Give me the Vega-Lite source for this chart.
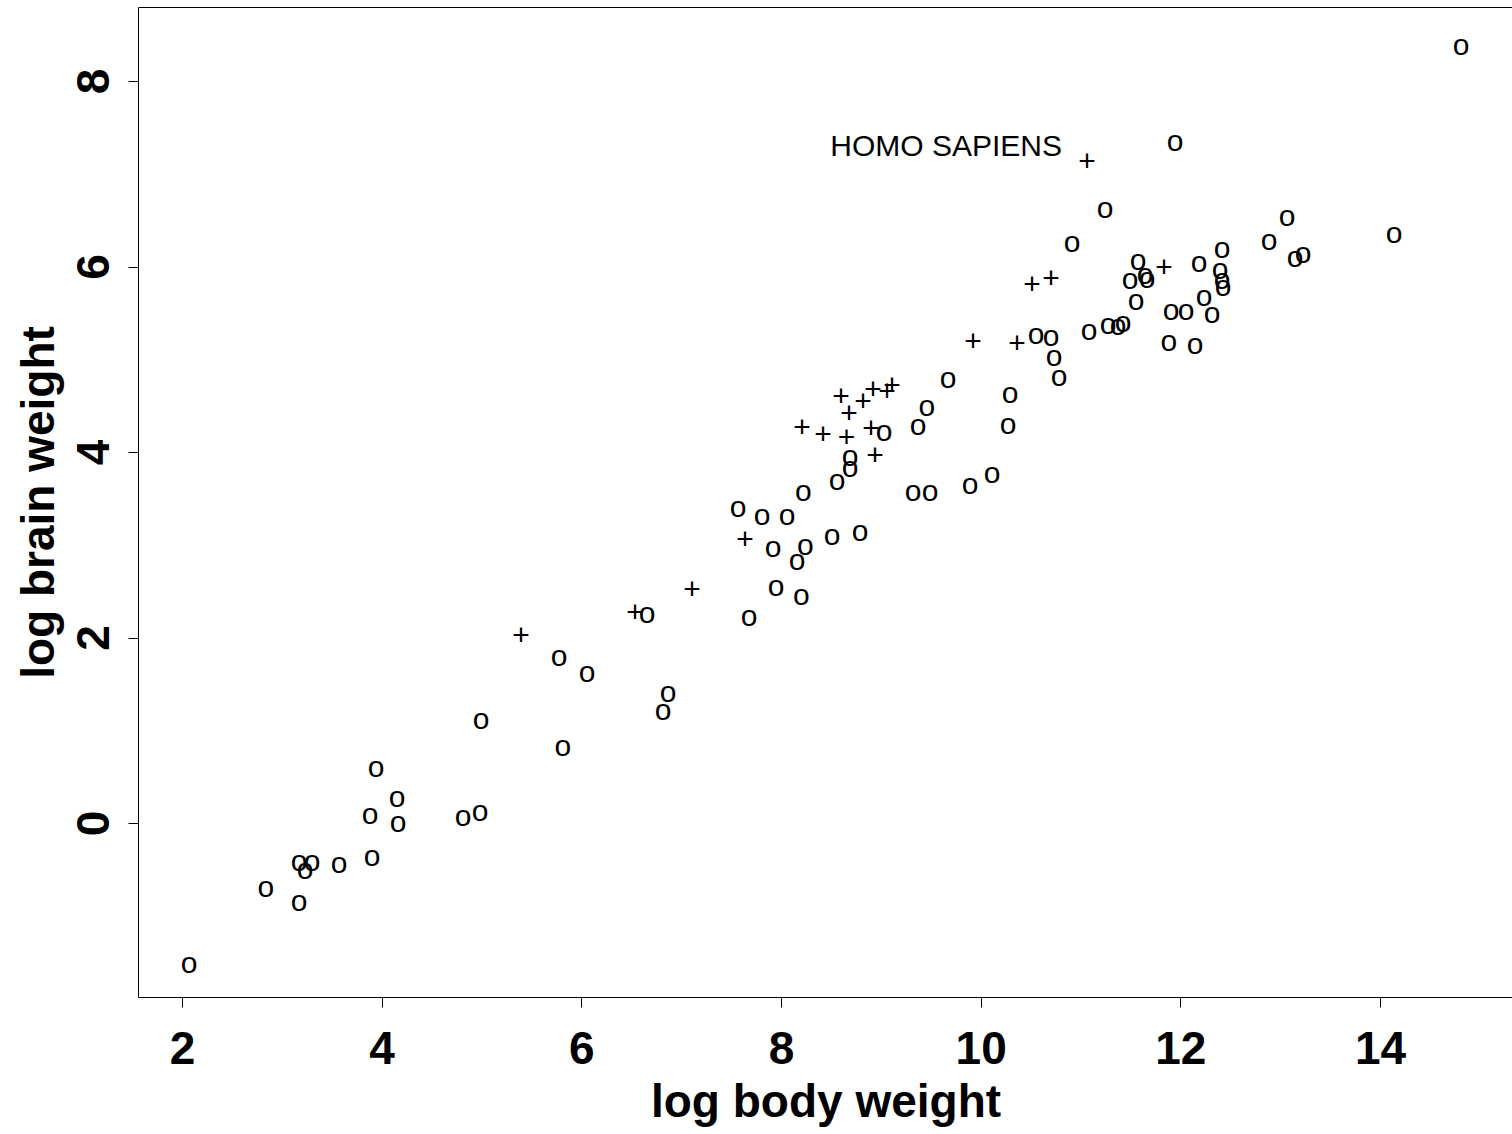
{
  "$schema": "https://vega.github.io/schema/vega-lite/v6.json",
  "autosize": {"type": "none"},
  "width": 1375,
  "height": 990,
  "padding": {"left": 138, "top": 7, "right": 0, "bottom": 137},
  "background": "white",
  "config": {
    "view": {"stroke": "black", "strokeWidth": 1},
    "font": "Liberation Sans"
  },
  "data": {
    "values": [
      {"x": 14.812, "y": 8.377, "s": "o"},
      {"x": 11.947, "y": 7.342, "s": "o"},
      {"x": 11.245, "y": 6.620, "s": "o"},
      {"x": 10.915, "y": 6.253, "s": "o"},
      {"x": 13.069, "y": 6.534, "s": "o"},
      {"x": 12.888, "y": 6.270, "s": "o"},
      {"x": 14.140, "y": 6.350, "s": "o"},
      {"x": 13.229, "y": 6.135, "s": "o"},
      {"x": 13.149, "y": 6.092, "s": "o"},
      {"x": 12.417, "y": 6.189, "s": "o"},
      {"x": 12.187, "y": 6.038, "s": "o"},
      {"x": 11.576, "y": 6.059, "s": "o"},
      {"x": 11.496, "y": 5.854, "s": "o"},
      {"x": 11.646, "y": 5.908, "s": "o"},
      {"x": 11.666, "y": 5.865, "s": "o"},
      {"x": 12.397, "y": 5.962, "s": "o"},
      {"x": 12.417, "y": 5.854, "s": "o"},
      {"x": 12.427, "y": 5.779, "s": "o"},
      {"x": 12.237, "y": 5.671, "s": "o"},
      {"x": 12.317, "y": 5.488, "s": "o"},
      {"x": 11.907, "y": 5.520, "s": "o"},
      {"x": 12.057, "y": 5.520, "s": "o"},
      {"x": 11.886, "y": 5.186, "s": "o"},
      {"x": 12.147, "y": 5.154, "s": "o"},
      {"x": 11.556, "y": 5.628, "s": "o"},
      {"x": 11.085, "y": 5.305, "s": "o"},
      {"x": 11.275, "y": 5.369, "s": "o"},
      {"x": 11.376, "y": 5.359, "s": "o"},
      {"x": 11.426, "y": 5.391, "s": "o"},
      {"x": 10.554, "y": 5.261, "s": "o"},
      {"x": 10.705, "y": 5.243, "s": "o"},
      {"x": 10.735, "y": 5.024, "s": "o"},
      {"x": 10.785, "y": 4.808, "s": "o"},
      {"x": 10.514, "y": 5.801, "s": "+"},
      {"x": 10.705, "y": 5.865, "s": "+"},
      {"x": 11.837, "y": 5.984, "s": "+"},
      {"x": 10.364, "y": 5.164, "s": "+"},
      {"x": 11.065, "y": 7.132, "s": "+", "label": "HOMO SAPIENS"},
      {"x": 9.923, "y": 5.186, "s": "+"},
      {"x": 8.601, "y": 4.593, "s": "+"},
      {"x": 8.821, "y": 4.539, "s": "+"},
      {"x": 8.922, "y": 4.668, "s": "+"},
      {"x": 9.062, "y": 4.647, "s": "+"},
      {"x": 9.112, "y": 4.712, "s": "+"},
      {"x": 8.681, "y": 4.410, "s": "+"},
      {"x": 8.211, "y": 4.259, "s": "+"},
      {"x": 8.421, "y": 4.183, "s": "+"},
      {"x": 8.655, "y": 4.151, "s": "+"},
      {"x": 8.902, "y": 4.248, "s": "+"},
      {"x": 8.942, "y": 3.957, "s": "+"},
      {"x": 7.639, "y": 3.051, "s": "+"},
      {"x": 9.673, "y": 4.787, "s": "o"},
      {"x": 10.294, "y": 4.625, "s": "o"},
      {"x": 9.462, "y": 4.485, "s": "o"},
      {"x": 9.372, "y": 4.280, "s": "o"},
      {"x": 10.274, "y": 4.291, "s": "o"},
      {"x": 9.032, "y": 4.216, "s": "o"},
      {"x": 8.691, "y": 3.946, "s": "o"},
      {"x": 8.691, "y": 3.827, "s": "o"},
      {"x": 8.561, "y": 3.687, "s": "o"},
      {"x": 8.224, "y": 3.569, "s": "o"},
      {"x": 9.322, "y": 3.569, "s": "o"},
      {"x": 9.493, "y": 3.569, "s": "o"},
      {"x": 9.893, "y": 3.644, "s": "o"},
      {"x": 10.114, "y": 3.763, "s": "o"},
      {"x": 7.569, "y": 3.396, "s": "o"},
      {"x": 7.810, "y": 3.310, "s": "o"},
      {"x": 8.060, "y": 3.310, "s": "o"},
      {"x": 7.920, "y": 2.965, "s": "o"},
      {"x": 8.244, "y": 2.987, "s": "o"},
      {"x": 8.511, "y": 3.094, "s": "o"},
      {"x": 8.791, "y": 3.137, "s": "o"},
      {"x": 8.160, "y": 2.825, "s": "o"},
      {"x": 7.950, "y": 2.544, "s": "o"},
      {"x": 8.204, "y": 2.447, "s": "o"},
      {"x": 7.680, "y": 2.221, "s": "o"},
      {"x": 5.396, "y": 2.016, "s": "+"},
      {"x": 6.538, "y": 2.264, "s": "+"},
      {"x": 7.109, "y": 2.512, "s": "+"},
      {"x": 6.658, "y": 2.253, "s": "o"},
      {"x": 5.776, "y": 1.790, "s": "o"},
      {"x": 6.057, "y": 1.617, "s": "o"},
      {"x": 6.868, "y": 1.402, "s": "o"},
      {"x": 6.818, "y": 1.208, "s": "o"},
      {"x": 5.816, "y": 0.819, "s": "o"},
      {"x": 4.995, "y": 1.111, "s": "o"},
      {"x": 3.943, "y": 0.593, "s": "o"},
      {"x": 4.154, "y": 0.270, "s": "o"},
      {"x": 3.883, "y": 0.086, "s": "o"},
      {"x": 4.164, "y": 0.000, "s": "o"},
      {"x": 4.815, "y": 0.065, "s": "o"},
      {"x": 4.985, "y": 0.119, "s": "o"},
      {"x": 3.903, "y": -0.367, "s": "o"},
      {"x": 3.172, "y": -0.420, "s": "o"},
      {"x": 3.302, "y": -0.420, "s": "o"},
      {"x": 3.232, "y": -0.507, "s": "o"},
      {"x": 3.573, "y": -0.442, "s": "o"},
      {"x": 2.841, "y": -0.701, "s": "o"},
      {"x": 3.172, "y": -0.852, "s": "o"},
      {"x": 2.070, "y": -1.520, "s": "o"}
    ]
  },
  "encoding": {
    "x": {
      "field": "x",
      "type": "quantitative",
      "scale": {"domain": [1.5593, 15.332], "nice": false, "zero": false},
      "axis": {
        "values": [2, 4, 6, 8, 10, 12, 14],
        "grid": false,
        "domain": false,
        "ticks": true,
        "tickSize": 10,
        "tickColor": "black",
        "tickWidth": 1,
        "labelFont": "Liberation Sans",
        "labelFontSize": 46,
        "labelFontWeight": "bold",
        "labelColor": "black",
        "labelBaseline": "alphabetic",
        "labelPadding": 56,
        "labelFlush": false,
        "labelOverlap": false,
        "title": "log body weight",
        "titleFont": "Liberation Sans",
        "titleFontSize": 46,
        "titleFontWeight": "bold",
        "titleColor": "black",
        "titleBaseline": "alphabetic",
        "titleY": 119
      }
    },
    "y": {
      "field": "y",
      "type": "quantitative",
      "scale": {"domain": [-1.876, 8.798], "nice": false, "zero": false},
      "axis": {
        "values": [0, 2, 4, 6, 8],
        "grid": false,
        "domain": false,
        "ticks": true,
        "tickSize": 10,
        "tickColor": "black",
        "tickWidth": 1,
        "labelFont": "Liberation Sans",
        "labelFontSize": 46,
        "labelFontWeight": "bold",
        "labelColor": "black",
        "labelAngle": 270,
        "labelAlign": "center",
        "labelBaseline": "alphabetic",
        "labelPadding": 20,
        "labelFlush": false,
        "labelOverlap": false,
        "title": "log brain weight",
        "titleFont": "Liberation Sans",
        "titleFontSize": 46,
        "titleFontWeight": "bold",
        "titleColor": "black",
        "titleAngle": 270,
        "titleAlign": "center",
        "titleBaseline": "alphabetic",
        "titleX": -85
      }
    }
  },
  "layer": [
    {
      "mark": {"type": "text", "font": "Liberation Sans", "fontSize": 30, "align": "center", "baseline": "middle", "color": "black"},
      "encoding": {"text": {"field": "s", "type": "nominal"}}
    },
    {
      "transform": [{"filter": "isValid(datum.label)"}],
      "mark": {"type": "text", "font": "Liberation Sans", "fontSize": 30, "align": "right", "baseline": "alphabetic", "dx": -25, "dy": -6, "color": "black"},
      "encoding": {"text": {"field": "label", "type": "nominal"}}
    }
  ]
}
